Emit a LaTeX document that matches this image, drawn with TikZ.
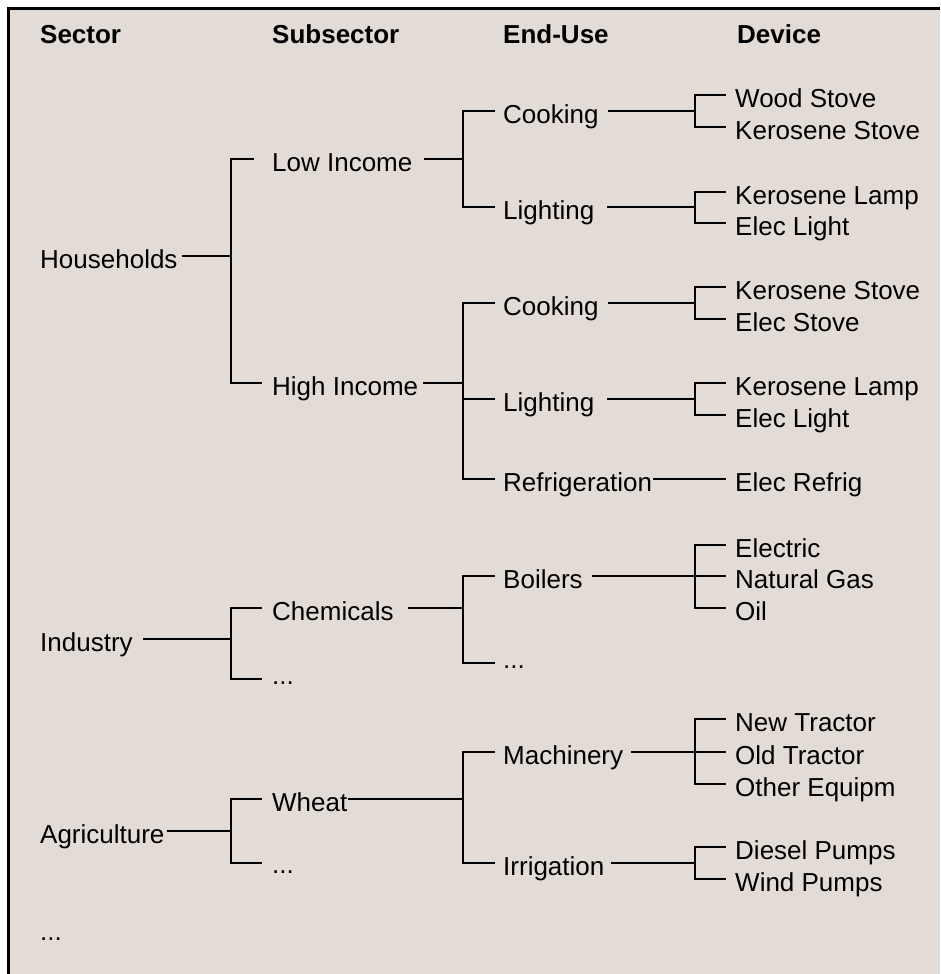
\documentclass[tikz,border=0pt]{standalone}
\usepackage{fontspec}
\setmainfont{Liberation Sans}
\definecolor{bgc}{RGB}{227,220,214}
\definecolor{inkc}{RGB}{0,0,0}
\begin{document}
\begin{tikzpicture}[x=1pt,y=1pt,
  lbl/.style={anchor=west, inner sep=0pt, text height=25pt, text depth=0pt, font=\fontsize{26}{30}\selectfont, text=inkc},
  hdr/.style={anchor=base west, inner sep=0pt, font=\fontsize{26}{30}\selectfont\bfseries, text=inkc},
  dotl/.style={anchor=base west, inner sep=0pt, font=\fontsize{26}{30}\selectfont, text=inkc},
  conn/.style={line width=1.3pt, draw=inkc},
  frame/.style={line width=2.6pt, draw=black}]
\useasboundingbox (0,0) rectangle (940,-974);
\fill[white] (0,0) rectangle (940,-974);
\fill[bgc] (8,-8) rectangle (940,-974);
\draw[frame] (8.5,-974) -- (8.5,-8.5) -- (940,-8.5);

% bar columns
\coordinate (b1) at (231,0);
\coordinate (b2) at (463,0);
\coordinate (b3) at (695,0);

% headers
\node[hdr] (hs) at (40,-44) {Sector};
\node[hdr] (hss) at (272,-44) {Subsector};
\node[hdr] (heu) at (503,-44) {End-Use};
\node[hdr] (hdv) at (737,-44) {Device};

% sectors
\node[lbl] (hh)  at (40,-256) {Households};
\node[lbl] (ind) at (40,-639) {Industry};
\node[lbl] (agr) at (40,-831) {Agriculture};
\node[dotl] (sdots) at (40,-940) {...};

% subsectors
\node[lbl] (low)   at (272,-159) {Low Income};
\node[lbl] (high)  at (272,-383) {High Income};
\node[lbl] (chem)  at (272,-608) {Chemicals};
\node[dotl] (idots) at (272,-684) {...};
\coordinate (idl) at (262,-679);
\node[lbl] (wheat) at (272,-799) {Wheat};
\node[dotl] (adots) at (272,-873) {...};
\coordinate (adl) at (262,-863);

% end-uses
\node[lbl] (cook1)  at (503,-111) {Cooking};
\node[lbl] (light1) at (503,-207) {Lighting};
\node[lbl] (cook2)  at (503,-303) {Cooking};
\node[lbl] (light2) at (503,-399) {Lighting};
\node[lbl] (refr)   at (503,-479) {Refrigeration};
\node[lbl] (boil)   at (503,-576) {Boilers};
\node[dotl] (edots) at (503,-668) {...};
\coordinate (edl) at (495,-663);
\node[lbl] (mach)   at (503,-752) {Machinery};
\node[lbl] (irr)    at (503,-863) {Irrigation};

% devices
\node[lbl] (d1)  at (735,-95)  {Wood Stove};
\node[lbl] (d2)  at (735,-127) {Kerosene Stove};
\node[lbl] (d3)  at (735,-192) {Kerosene Lamp};
\node[lbl] (d4)  at (735,-223) {Elec Light};
\node[lbl] (d5)  at (735,-287) {Kerosene Stove};
\node[lbl] (d6)  at (735,-319) {Elec Stove};
\node[lbl] (d7)  at (735,-383) {Kerosene Lamp};
\node[lbl] (d8)  at (735,-415) {Elec Light};
\node[lbl] (d9)  at (735,-479) {Elec Refrig};
\node[lbl] (d10) at (735,-545) {Electric};
\node[lbl] (d11) at (735,-576) {Natural Gas};
\node[lbl] (d12) at (735,-608) {Oil};
\node[lbl] (d13) at (735,-719) {New Tractor};
\node[lbl] (d14) at (735,-752) {Old Tractor};
\node[lbl] (d15) at (735,-784) {Other Equipm};
\node[lbl] (d16) at (735,-847) {Diesel Pumps};
\node[lbl] (d17) at (735,-879) {Wind Pumps};

% ---- connectors ----
% Households
\draw[conn] ([xshift=4pt]hh.east) -- (hh.east -| b1);
\draw[conn] ([xshift=-18pt]low.west) -- (low.west -| b1) -- (high.west -| b1) -- ([xshift=-10pt]high.west);
% Low Income
\draw[conn] ([xshift=11pt]low.east) -- (low.east -| b2);
\draw[conn] ([xshift=-8pt]cook1.west) -- (cook1.west -| b2) -- (light1.west -| b2) -- ([xshift=-8pt]light1.west);
\draw[conn] ([xshift=9pt]cook1.east) -- (cook1.east -| b3);
\draw[conn] ([xshift=-9pt]d1.west) -- (d1.west -| b3) -- (d2.west -| b3) -- ([xshift=-9pt]d2.west);
\draw[conn] ([xshift=13pt]light1.east) -- (light1.east -| b3);
\draw[conn] ([xshift=-9pt]d3.west) -- (d3.west -| b3) -- (d4.west -| b3) -- ([xshift=-9pt]d4.west);
% High Income
\draw[conn] ([xshift=5pt]high.east) -- (high.east -| b2);
\draw[conn] ([xshift=-8pt]cook2.west) -- (cook2.west -| b2) -- (refr.west -| b2) -- ([xshift=-8pt]refr.west);
\draw[conn] (light2.west -| b2) -- ([xshift=-8pt]light2.west);
\draw[conn] ([xshift=9pt]cook2.east) -- (cook2.east -| b3);
\draw[conn] ([xshift=-9pt]d5.west) -- (d5.west -| b3) -- (d6.west -| b3) -- ([xshift=-9pt]d6.west);
\draw[conn] ([xshift=13pt]light2.east) -- (light2.east -| b3);
\draw[conn] ([xshift=-9pt]d7.west) -- (d7.west -| b3) -- (d8.west -| b3) -- ([xshift=-9pt]d8.west);
\draw[conn] ([xshift=1pt]refr.east) -- ([xshift=-9pt]d9.west);
% Industry
\draw[conn] ([xshift=10pt]ind.east) -- (ind.east -| b1);
\draw[conn] ([xshift=-10pt]chem.west) -- (chem.west -| b1) -- (idl -| b1) -- (idl);
\draw[conn] ([xshift=14pt]chem.east) -- (chem.east -| b2);
\draw[conn] ([xshift=-8pt]boil.west) -- (boil.west -| b2) -- (edl -| b2) -- (edl);
\draw[conn] ([xshift=9pt]boil.east) -- (boil.east -| b3);
\draw[conn] ([xshift=-9pt]d10.west) -- (d10.west -| b3) -- (d12.west -| b3) -- ([xshift=-9pt]d12.west);
\draw[conn] (d11.west -| b3) -- ([xshift=-9pt]d11.west);
% Agriculture
\draw[conn] ([xshift=2pt]agr.east) -- (agr.east -| b1);
\draw[conn] ([xshift=-10pt]wheat.west) -- (wheat.west -| b1) -- (adl -| b1) -- (adl);
\draw[conn] (wheat.east) -- (wheat.east -| b2);
\draw[conn] ([xshift=-8pt]mach.west) -- (mach.west -| b2) -- (irr.west -| b2) -- ([xshift=-8pt]irr.west);
\draw[conn] ([xshift=8pt]mach.east) -- (mach.east -| b3);
\draw[conn] ([xshift=-9pt]d13.west) -- (d13.west -| b3) -- (d15.west -| b3) -- ([xshift=-9pt]d15.west);
\draw[conn] (d14.west -| b3) -- ([xshift=-9pt]d14.west);
\draw[conn] ([xshift=6pt]irr.east) -- (irr.east -| b3);
\draw[conn] ([xshift=-9pt]d16.west) -- (d16.west -| b3) -- (d17.west -| b3) -- ([xshift=-9pt]d17.west);
\end{tikzpicture}
\end{document}
